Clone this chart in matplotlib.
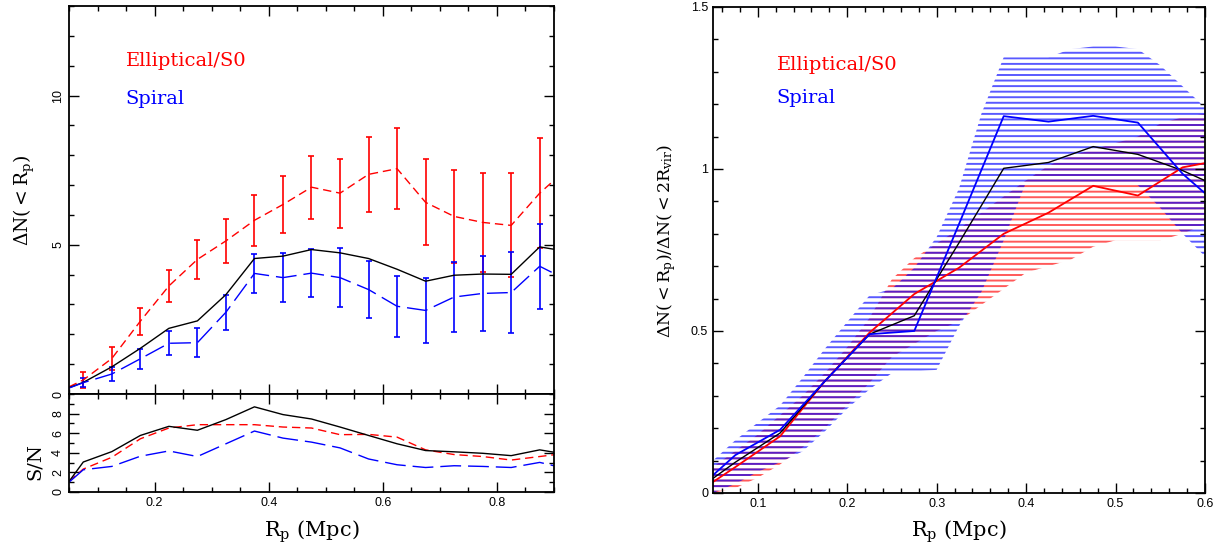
import matplotlib
matplotlib.use("Agg")
import matplotlib.pyplot as plt
from matplotlib.ticker import MultipleLocator, FuncFormatter

plt.rcParams['font.family'] = 'DejaVu Serif'
plt.rcParams['mathtext.fontset'] = 'dejavuserif'
plt.rcParams['hatch.linewidth'] = 1.4
plt.rcParams['lines.scale_dashes'] = False

# ---- left: Delta N(<Rp) per morphology, bins of projected radius
r_bin = [0.075, 0.125, 0.175, 0.225, 0.275, 0.325, 0.375, 0.425, 0.475,
         0.525, 0.575, 0.625, 0.675, 0.725, 0.775, 0.825, 0.875]
dn_ell = [0.47, 1.19, 2.44, 3.62, 4.51, 5.13, 5.82, 6.35, 6.93,
          6.73, 7.36, 7.55, 6.42, 5.95, 5.75, 5.65, 6.73]
err_ell = [0.27, 0.39, 0.45, 0.55, 0.65, 0.75, 0.86, 0.96, 1.05,
           1.16, 1.25, 1.35, 1.44, 1.55, 1.65, 1.74, 1.85]
dn_spi = [0.38, 0.67, 1.18, 1.70, 1.72, 2.74, 4.04, 3.90, 4.05,
          3.90, 3.50, 2.94, 2.80, 3.25, 3.37, 3.40, 4.28]
err_spi = [0.16, 0.24, 0.33, 0.40, 0.48, 0.58, 0.65, 0.82, 0.80,
           0.98, 0.95, 1.03, 1.10, 1.18, 1.26, 1.35, 1.42]
dn_all = [0.39, 0.91, 1.53, 2.20, 2.45, 3.33, 4.54, 4.62, 4.84,
          4.73, 4.54, 4.18, 3.78, 3.98, 4.02, 4.01, 4.93]
# values where the curves leave the frame (Rp = 0.05 and 0.9)
r_edge = [0.05, 0.9]
dn_ell_edge = [0.24, 7.16]
dn_spi_edge = [0.20, 4.04]
dn_all_edge = [0.21, 4.85]

# signal to noise
sn_all = [3.06, 4.12, 5.77, 6.70, 6.30, 7.39, 8.69, 7.90, 7.45,
          6.63, 5.77, 4.92, 4.23, 4.10, 3.95, 3.71, 4.30]
sn_ell = [2.34, 3.54, 5.43, 6.53, 6.87, 6.87, 6.87, 6.63, 6.53,
          5.85, 5.88, 5.60, 4.30, 3.82, 3.62, 3.26, 3.62]
sn_spi = [2.27, 2.61, 3.65, 4.19, 3.62, 4.92, 6.22, 5.50, 5.09,
          4.50, 3.37, 2.78, 2.50, 2.68, 2.61, 2.50, 3.02]
sn_all_edge = [1.07, 4.06]
sn_ell_edge = [1.10, 3.80]
sn_spi_edge = [1.00, 2.68]

# ---- right: Delta N(<Rp) / Delta N(<2 Rvir)
fr_x = [0.05, 0.075, 0.125, 0.175, 0.225, 0.275, 0.325, 0.375, 0.425,
        0.475, 0.525, 0.575, 0.6]
fr_ell = [0.034, 0.08, 0.175, 0.345, 0.495, 0.614, 0.695, 0.80, 0.865,
          0.948, 0.918, 1.005, 1.018]
fr_all = [0.045, 0.095, 0.185, 0.345, 0.49, 0.547, 0.772, 1.002, 1.02,
          1.069, 1.045, 0.995, 0.964]
fr_spi = [0.055, 0.117, 0.195, 0.345, 0.49, 0.50, 0.83, 1.163, 1.146,
          1.164, 1.143, 0.985, 0.925]

# hatched uncertainty bands
band_x = [0.05, 0.075, 0.1, 0.125, 0.15, 0.175, 0.2, 0.225, 0.25, 0.275,
          0.3, 0.325, 0.35, 0.375, 0.4, 0.425, 0.45, 0.475, 0.5, 0.525,
          0.55, 0.575, 0.6]
spi_hi = [0.10, 0.163, 0.217, 0.27, 0.355, 0.445, 0.528, 0.61, 0.63, 0.695,
          0.79, 0.94, 1.17, 1.345, 1.345, 1.345, 1.37, 1.378, 1.378, 1.37,
          1.32, 1.255, 1.19]
spi_lo = [0.0, 0.028, 0.065, 0.095, 0.128, 0.19, 0.26, 0.32, 0.37, 0.375,
          0.38, 0.515, 0.62, 0.78, 0.96, 0.96, 0.96, 0.96, 0.96, 0.95,
          0.88, 0.80, 0.73]
ell_hi = [0.08, 0.13, 0.18, 0.24, 0.30, 0.37, 0.45, 0.54, 0.66, 0.725,
          0.77, 0.815, 0.865, 0.915, 0.965, 1.01, 1.04, 1.06, 1.08, 1.10,
          1.14, 1.16, 1.17]
ell_lo = [0.0, 0.015, 0.047, 0.088, 0.14, 0.20, 0.27, 0.34, 0.42, 0.46,
          0.50, 0.53, 0.58, 0.63, 0.68, 0.70, 0.72, 0.76, 0.78, 0.78,
          0.78, 0.80, 0.83]

RED = '#ff0000'
BLUE = '#0000ff'
TICKFONT = 'Liberation Sans'


def style_axes(ax, xmaj, xmin, ymaj, ymin):
	ax.xaxis.set_major_locator(MultipleLocator(xmaj))
	ax.xaxis.set_minor_locator(MultipleLocator(xmin))
	ax.yaxis.set_major_locator(MultipleLocator(ymaj))
	ax.yaxis.set_minor_locator(MultipleLocator(ymin))
	ax.tick_params(which='both', direction='in', top=True, right=True,
	               width=1.0, labelsize=9, labelfontfamily=TICKFONT)
	ax.tick_params(which='major', length=7)
	ax.tick_params(which='minor', length=3.5)
	for sp in ax.spines.values():
		sp.set_linewidth(1.3)


def edged(edge, vals):
	return [edge[0]] + list(vals) + [edge[1]]


g = lambda v, pos: '%g' % v

fig = plt.figure(figsize=(12.13, 5.48), dpi=100)
ax_top = fig.add_axes([0.0569, 0.2810, 0.3998, 0.7080])
ax_sn = fig.add_axes([0.0569, 0.1022, 0.3998, 0.1788], sharex=ax_top)
ax_fr = fig.add_axes([0.5878, 0.1004, 0.4056, 0.8869])

# --- top left
x_line = edged(r_edge, r_bin)
ax_top.errorbar(r_bin, dn_ell, yerr=err_ell, fmt='none', ecolor=RED,
                elinewidth=1.2, capsize=2.5, capthick=1.2)
ax_top.errorbar(r_bin, dn_spi, yerr=err_spi, fmt='none', ecolor=BLUE,
                elinewidth=1.2, capsize=2.5, capthick=1.2)
ax_top.plot(x_line, edged(dn_ell_edge, dn_ell), color=RED, lw=1.0, dashes=(6, 3.5))
ax_top.plot(x_line, edged(dn_all_edge, dn_all), color='black', lw=1.0)
ax_top.plot(x_line, edged(dn_spi_edge, dn_spi), color=BLUE, lw=1.0, dashes=(15, 5))
ax_top.set_xlim(0.05, 0.9)
ax_top.set_ylim(0, 13)
style_axes(ax_top, 0.2, 0.05, 5, 1)
ax_top.tick_params(labelbottom=False)
ax_top.yaxis.set_major_formatter(FuncFormatter(g))
for lab in ax_top.get_yticklabels():
	lab.set_rotation(90)
	lab.set_va('center')
ax_top.text(0.149, 11.17, 'Elliptical/S0', color=RED, fontsize=14, va='center')
ax_top.text(0.149, 9.87, 'Spiral', color=BLUE, fontsize=14, va='center')

# --- bottom left: S/N
ax_sn.plot(x_line, edged(sn_ell_edge, sn_ell), color=RED, lw=1.0, dashes=(6, 3.5))
ax_sn.plot(x_line, edged(sn_all_edge, sn_all), color='black', lw=1.0)
ax_sn.plot(x_line, edged(sn_spi_edge, sn_spi), color=BLUE, lw=1.0, dashes=(15, 5))
ax_sn.set_ylim(0, 10)
style_axes(ax_sn, 0.2, 0.05, 2, 1)
ax_sn.set_yticks([0, 2, 4, 6, 8])
ax_sn.xaxis.set_major_formatter(FuncFormatter(g))
for lab in ax_sn.get_yticklabels():
	lab.set_rotation(90)
	lab.set_va('center')
ax_sn.set_xlim(0.05, 0.9)

# --- right: fraction with hatched bands
ax_fr.fill_between(band_x, ell_lo, ell_hi, facecolor='none',
                   edgecolor=(1, 0, 0, 0.65), hatch='---', linewidth=0)
ax_fr.fill_between(band_x, spi_lo, spi_hi, facecolor='none',
                   edgecolor=(0, 0, 1, 0.65), hatch='---', linewidth=0)
ax_fr.plot(fr_x, fr_ell, color=RED, lw=1.3)
ax_fr.plot(fr_x, fr_all, color='black', lw=1.0)
ax_fr.plot(fr_x, fr_spi, color=BLUE, lw=1.3)
ax_fr.set_xlim(0.05, 0.6)
ax_fr.set_ylim(0, 1.5)
style_axes(ax_fr, 0.1, 0.02, 0.5, 0.1)
ax_fr.xaxis.set_major_formatter(FuncFormatter(g))
ax_fr.yaxis.set_major_formatter(FuncFormatter(g))
ax_fr.text(0.121, 1.32, 'Elliptical/S0', color=RED, fontsize=14, va='center')
ax_fr.text(0.121, 1.22, 'Spiral', color=BLUE, fontsize=14, va='center')

# --- axis titles
W, H = 1213.0, 548.0
fig.text(24 / W, 1 - 200 / H, r'$\Delta\mathrm{N}(<\mathrm{R}_\mathrm{p})$',
         rotation=90, ha='center', va='center', fontsize=13.5)
fig.text(35 / W, 1 - 462 / H, 'S/N', rotation=90, ha='center', va='center',
         fontsize=14)
fig.text(311.5 / W, 1 - 532 / H, r'$\mathrm{R}_\mathrm{p}$ (Mpc)',
         ha='center', va='center', fontsize=15)
fig.text(959 / W, 1 - 532 / H, r'$\mathrm{R}_\mathrm{p}$ (Mpc)',
         ha='center', va='center', fontsize=15)
fig.text(667 / W, 1 - 241 / H,
         r'$\Delta\mathrm{N}(<\mathrm{R}_\mathrm{p})/\Delta\mathrm{N}(<2\mathrm{R}_\mathrm{vir})$',
         rotation=90, ha='center', va='center', fontsize=12.5)

fig.savefig('out.png', dpi=100)
